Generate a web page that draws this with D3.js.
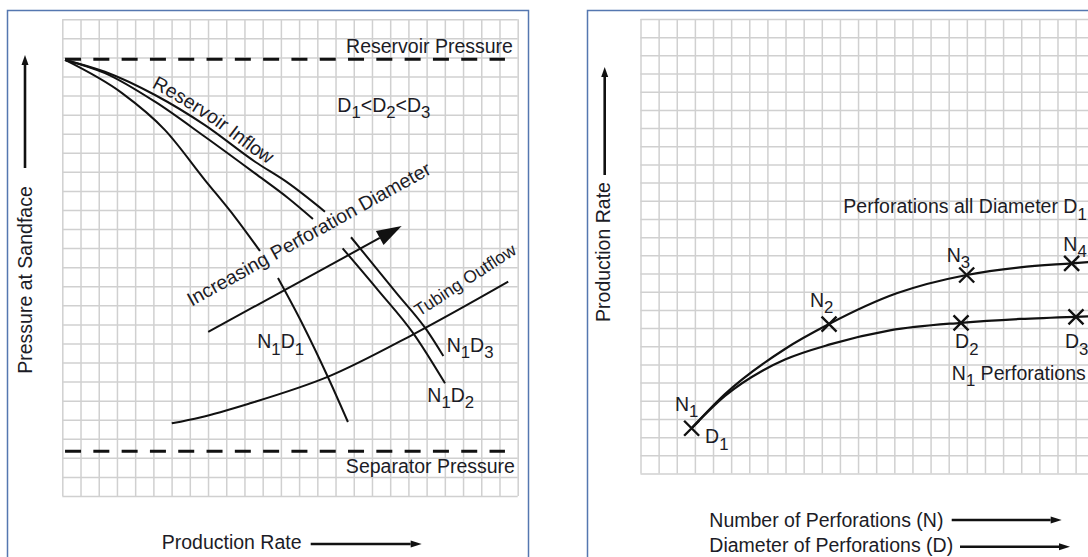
<!DOCTYPE html>
<html><head><meta charset="utf-8">
<script src="https://cdn.jsdelivr.net/npm/d3@7"></script>
<style>
html,body{margin:0;padding:0;background:#fff;}
svg{display:block;}
text{font-family:"Liberation Sans",Arial,Helvetica,sans-serif;fill:#1c1c26;}
</style></head><body>
<svg id="chart" width="1088" height="557"></svg>
<script>
// ---------- DATA (grid units: 0..25 on both axes of each panel) ----------
const gridTicks = d3.range(0, 26);

// Left panel: pressure at sandface vs production rate
const reservoirPressure = 22.9;
const separatorPressure = 2.35;
const pressureLineRates = [0.15, 24.3];

// Reservoir inflow curves (null = gap where the annotation text crosses)
const inflowN1D1 = [[0.15,22.87],[3.28,21.13],[5.64,19.19],[7.83,16.57],[9.48,14.63],[10.85,12.85],null,
                    [11.84,11.43],[13.21,8.97],[14.58,6.24],[15.68,3.88]];
const inflowN1D2 = [[0.15,22.87],[2.34,22.18],[5.09,20.68],[7.83,18.84],[10.58,16.92],[12.39,15.63],[13.76,14.53],null,
                    [15.39,12.99],[17.33,10.80],[19.27,8.53],[21.01,5.91]];
const inflowN1D3 = [[0.15,22.87],[2.34,22.25],[5.09,21.03],[7.83,19.45],[10.58,17.53],[12.39,16.42],[14.42,14.91],null,
                    [15.85,13.57],[18.36,10.63],[20.0,8.71],[20.92,7.34]];
const tubingOutflow = [[6.01,3.81],[7.56,4.12],[10.30,4.86],[14.60,6.26],[19.27,8.48],[24.48,11.24]];
const diameterArrow = [[8.01,8.61],[18.63,14.16]];

const leftLabels = [
  {parts:[["Reservoir Pressure",0]], u:24.74, v:23.23, anchor:"end", rot:0},
  {parts:[["Separator Pressure",0]], u:24.85, v:1.22, anchor:"end", rot:0},
  {parts:[["D",0],["1",1],["<D",0],["2",1],["<D",0],["3",1]], u:15.1, v:20.15, anchor:"start", rot:0},
  {parts:[["N",0],["1",1],["D",0],["1",1]], u:10.7, v:7.75, anchor:"start", rot:0},
  {parts:[["N",0],["1",1],["D",0],["3",1]], u:21.1, v:7.57, anchor:"start", rot:0},
  {parts:[["N",0],["1",1],["D",0],["2",1]], u:20.04, v:4.95, anchor:"start", rot:0},
  {parts:[["Increasing Perforation Diameter",0]], u:7.10, v:9.93, anchor:"start", rot:-29},
  {parts:[["Tubing Outflow",0]], u:19.6, v:9.40, anchor:"start", rot:-33, size:17.5}
];

// Right panel: production rate vs number / diameter of perforations
const nCurve = [[2.82,2.49],[4.66,4.37],[7.97,6.85],[10.40,8.22],[14.13,9.91],[17.99,10.92],[20.93,11.34],[23.78,11.56],[25,11.65]];
const dCurve = [[2.82,2.49],[4.66,4.27],[6.75,5.67],[7.97,6.27],[10.45,7.10],[13.76,7.87],[17.68,8.29],[20.93,8.50],[24.02,8.62],[25,8.65]];
const nMarkers = [[2.82,2.49],[10.40,8.22],[17.99,10.92],[23.78,11.56]];
const dMarkers = [[17.68,8.29],[24.02,8.62]];

const rightLabels = [
  {parts:[["N",0],["1",1]], u:1.90, v:3.45},
  {parts:[["D",0],["1",1]], u:3.56, v:1.66},
  {parts:[["N",0],["2",1]], u:9.35, v:9.17},
  {parts:[["N",0],["3",1]], u:16.89, v:11.65},
  {parts:[["N",0],["4",1]], u:23.32, v:12.26},
  {parts:[["D",0],["2",1]], u:17.35, v:6.89},
  {parts:[["D",0],["3",1]], u:23.41, v:6.89},
  {parts:[["N",0],["1",1],[" Perforations",0]], u:17.17, v:5.14},
  {parts:[["Perforations all Diameter D",0],["1",1]], u:11.19, v:14.31}
];

// ---------- DRAWING ----------
const svg = d3.select("#chart");
svg.append("rect").attr("width",1088).attr("height",557).attr("fill","#fff");

const FS = 19.5;
const xL = d3.scaleLinear().domain([0,25]).range([62.3,517.7]);
const yL = d3.scaleLinear().domain([0,25]).range([496,19.3]);
const xR = d3.scaleLinear().domain([0,25]).range([640.5,1093.75]);
const yR = d3.scaleLinear().domain([0,25]).range([473.5,19]);

// panel frames
svg.append("rect").attr("x",7.5).attr("y",10.5).attr("width",521).attr("height",600)
  .attr("fill","none").attr("stroke","#5577b0").attr("stroke-width",1.5);
svg.append("rect").attr("x",587.5).attr("y",10.5).attr("width",600).attr("height",600)
  .attr("fill","none").attr("stroke","#5577b0").attr("stroke-width",1.5);

function grid(x, y){
  const g = svg.append("g");
  const h = y(0) - y(25), w = x(25) - x(0);
  g.append("g").attr("transform",`translate(0,${y(0)})`)
    .call(d3.axisBottom(x).tickValues(gridTicks).tickSize(-h).tickFormat(""));
  g.append("g").attr("transform",`translate(${x(0)},0)`)
    .call(d3.axisLeft(y).tickValues(gridTicks).tickSize(-w).tickFormat(""));
  g.selectAll(".domain").remove();
  g.selectAll(".tick line").attr("stroke","#d0d0d0").attr("stroke-width",1.5);
}
grid(xL, yL);
grid(xR, yR);

function rich(t, parts, size){
  let down = false;
  parts.forEach(([s, sub]) => {
    const sp = t.append("tspan").text(s);
    if (sub) { sp.attr("font-size", size*0.86); if (!down){ sp.attr("dy", size*0.33); down = true; } }
    else if (down) { sp.attr("dy", -size*0.33); down = false; }
  });
}

// Left panel
const gL = svg.append("g");
[reservoirPressure, separatorPressure].forEach(p => {
  gL.append("line").attr("x1",xL(pressureLineRates[0])).attr("x2",xL(pressureLineRates[1]))
    .attr("y1",yL(p)).attr("y2",yL(p))
    .attr("stroke","#111").attr("stroke-width",3).attr("stroke-dasharray","16,12.3");
});
const lineL = d3.line().defined(d => d).x(d => xL(d[0])).y(d => yL(d[1])).curve(d3.curveMonotoneX);
[inflowN1D1, inflowN1D2, inflowN1D3].forEach((c,i) => {
  gL.append("path").attr("d", lineL(c)).attr("fill","none").attr("stroke","#111").attr("stroke-width",2)
    .attr("id", "inflow"+i);
});
gL.append("path").attr("d", lineL(tubingOutflow)).attr("fill","none").attr("stroke","#111").attr("stroke-width",2);

// Increasing diameter arrow
(function(){
  const x1 = xL(diameterArrow[0][0]), y1 = yL(diameterArrow[0][1]);
  const x2 = xL(diameterArrow[1][0]), y2 = yL(diameterArrow[1][1]);
  const a = Math.atan2(y2-y1, x2-x1), L = 25, W = 8;
  const bx = x2 - L*Math.cos(a), by = y2 - L*Math.sin(a);
  gL.append("line").attr("x1",x1).attr("y1",y1).attr("x2",bx).attr("y2",by).attr("stroke","#111").attr("stroke-width",2);
  gL.append("path").attr("d",`M${x2},${y2}L${bx+W*Math.sin(a)},${by-W*Math.cos(a)}L${bx-W*Math.sin(a)},${by+W*Math.cos(a)}Z`)
    .attr("fill","#111");
})();

leftLabels.forEach(l => {
  const size = l.size || FS;
  const t = gL.append("text").attr("font-size", size).attr("text-anchor", l.anchor)
    .attr("transform", `translate(${xL(l.u)},${yL(l.v)}) rotate(${l.rot})`);
  rich(t, l.parts, size);
});
// Reservoir Inflow along the outer curve
gL.append("text").attr("font-size", FS).attr("dy", -5)
  .append("textPath").attr("href", "#inflow2").attr("startOffset", 90).text("Reservoir Inflow");

// Right panel
const gR = svg.append("g");
const lineR = d3.line().x(d => xR(d[0])).y(d => yR(d[1])).curve(d3.curveMonotoneX);
[nCurve, dCurve].forEach(c => gR.append("path").attr("d", lineR(c)).attr("fill","none").attr("stroke","#111").attr("stroke-width",2.2));
gR.selectAll(".mk").data(nMarkers.concat(dMarkers)).join("path")
  .attr("transform", d => `translate(${xR(d[0])},${yR(d[1])})`)
  .attr("d","M-7.5,-7.5L7.5,7.5M-7.5,7.5L7.5,-7.5").attr("stroke","#111").attr("stroke-width",2.4);
rightLabels.forEach(l => {
  const t = gR.append("text").attr("font-size", FS).attr("x", xR(l.u)).attr("y", yR(l.v));
  rich(t, l.parts, FS);
});

// Axis titles with arrows
function arrow(x1,y1,x2,y2,L,W,sw){
  const a = Math.atan2(y2-y1, x2-x1);
  const bx = x2 - L*Math.cos(a), by = y2 - L*Math.sin(a);
  svg.append("line").attr("x1",x1).attr("y1",y1).attr("x2",bx).attr("y2",by).attr("stroke","#111").attr("stroke-width",sw);
  svg.append("path").attr("d",`M${x2},${y2}L${bx+W*Math.sin(a)},${by-W*Math.cos(a)}L${bx-W*Math.sin(a)},${by+W*Math.cos(a)}Z`).attr("fill","#111");
}
svg.append("text").attr("font-size",FS).attr("text-anchor","middle")
  .attr("transform","translate(32,280) rotate(-90)").text("Pressure at Sandface");
arrow(25,168,25,55,10,3.5,2.6);
svg.append("text").attr("font-size",FS).attr("x",161.7).attr("y",549).text("Production Rate");
arrow(310.7,544,421.7,544,11,3.5,2.6);

svg.append("text").attr("font-size",FS).attr("text-anchor","middle")
  .attr("transform","translate(610,252) rotate(-90)").text("Production Rate");
arrow(604.7,175,604.7,67,10,3.5,2.6);
svg.append("text").attr("font-size",FS).attr("x",709.3).attr("y",527).text("Number of Perforations (N)");
arrow(951.7,520,1061.7,520,11,3.5,2.6);
svg.append("text").attr("font-size",FS).attr("x",709.3).attr("y",552).text("Diameter of Perforations (D)");
arrow(960,546.7,1070,546.7,11,3.5,2.6);
</script>
</body></html>
